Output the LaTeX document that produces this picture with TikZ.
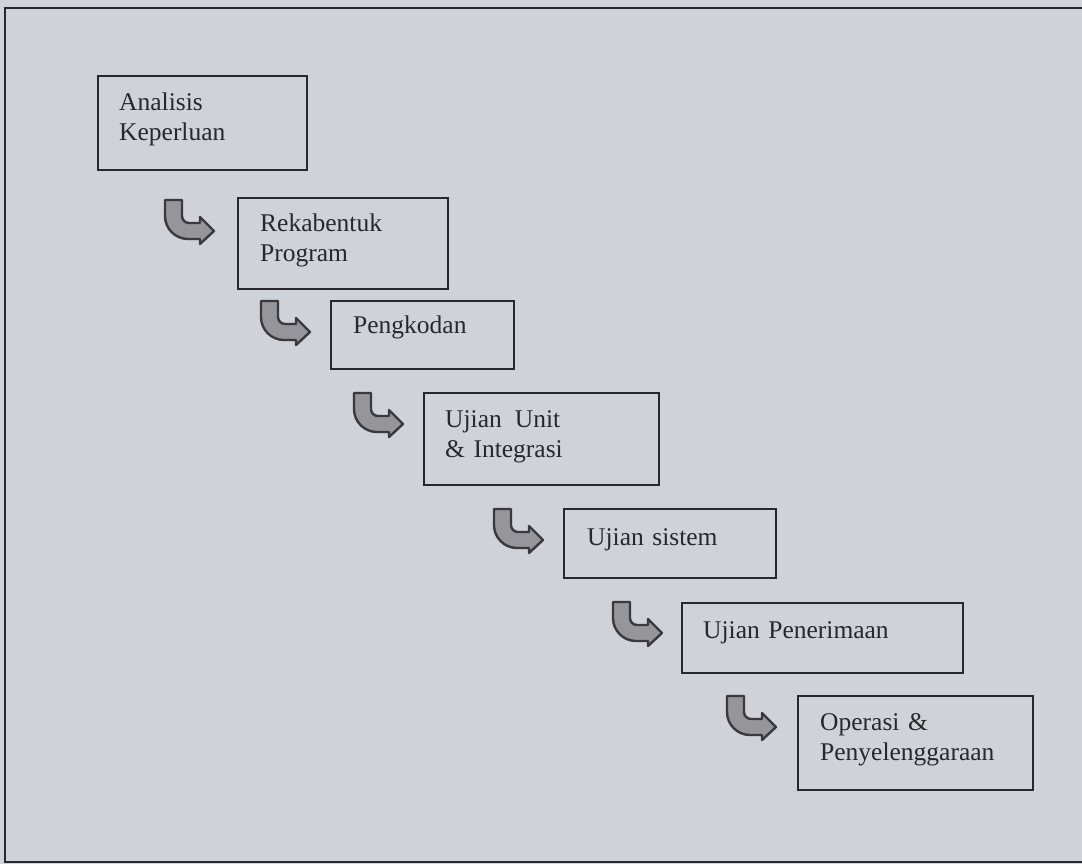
\documentclass[tikz,border=0pt]{standalone}
\usepackage{fontspec}
\setmainfont{Liberation Serif}
\usetikzlibrary{fit,calc}
\definecolor{paper}{RGB}{207,210,216}
\definecolor{ink}{RGB}{40,40,44}
\definecolor{arrowfill}{RGB}{150,150,154}
\definecolor{arrowedge}{RGB}{58,58,62}
\tikzset{
  stagebox/.style={draw=ink, line width=2pt, inner sep=0pt, outer sep=0pt, fit={#1}},
  stagetext/.style={anchor=base west, inner sep=0pt, text width=300pt,
    align=left, text=ink, font=\fontsize{25.5}{30}\selectfont},
  % bent "down then right" block arrow, origin at its tip
  bentarrow/.pic={
    \filldraw[fill=arrowfill, draw=arrowedge, line width=2.4pt, line join=round]
      (-49,-31) -- (-32,-31) -- (-32,-15)
      .. controls (-32,-11.13) and (-28.87,-8) .. (-25,-8)
      -- (-14,-8) -- (-14,-14) -- (0,0) -- (-14,13) -- (-14,8) -- (-26,8)
      .. controls (-38.7,8) and (-49,-2.3) .. (-49,-15) -- cycle;
  }
}
\begin{document}
\begin{tikzpicture}[x=1pt, y=-1pt]
  \useasboundingbox (0,0) rectangle (1082,864);
  \clip (0,0) rectangle (1082,864);
  \fill[paper] (0,0) rectangle (1082,864);
  % outer frame
  \draw[ink, line width=2.6pt] (5,8) rectangle (1095,862);

  % stages
  \node[stagebox={(98,76)(307,170)}]   (b1) {};
  \node[stagebox={(238,198)(448,289)}] (b2) {};
  \node[stagebox={(331,301)(514,369)}] (b3) {};
  \node[stagebox={(424,393)(659,485)}] (b4) {};
  \node[stagebox={(564,509)(776,578)}] (b5) {};
  \node[stagebox={(682,603)(963,673)}] (b6) {};
  \node[stagebox={(798,696)(1033,790)}] (b7) {};

  \node[stagetext] (t1) at (119,111) {Analisis\\Keperluan};
  \node[stagetext] (t2) at (260,231) {Rekabentuk\\Program};
  \node[stagetext] (t3) at (353,333) {Pengkodan};
  \node[stagetext] (t4) at (445,427) {Ujian\hspace{13pt}Unit\\\& Integrasi};
  \node[stagetext] (t5) at (587,545) {Ujian sistem};
  \node[stagetext] (t6) at (703,638) {Ujian Penerimaan};
  \node[stagetext] (t7) at (820,730) {Operasi \&\\Penyelenggaraan};

  % arrows leading into each next stage
  \pic (a1) at ($(b2.north west)+(-24,33)$) {bentarrow};
  \pic (a2) at ($(b3.north west)+(-21,31)$) {bentarrow};
  \pic (a3) at ($(b4.north west)+(-21,31)$) {bentarrow};
  \pic (a4) at ($(b5.north west)+(-21,31)$) {bentarrow};
  \pic (a5) at ($(b6.north west)+(-20,30)$) {bentarrow};
  \pic (a6) at ($(b7.north west)+(-22,31)$) {bentarrow};
\end{tikzpicture}
\end{document}
